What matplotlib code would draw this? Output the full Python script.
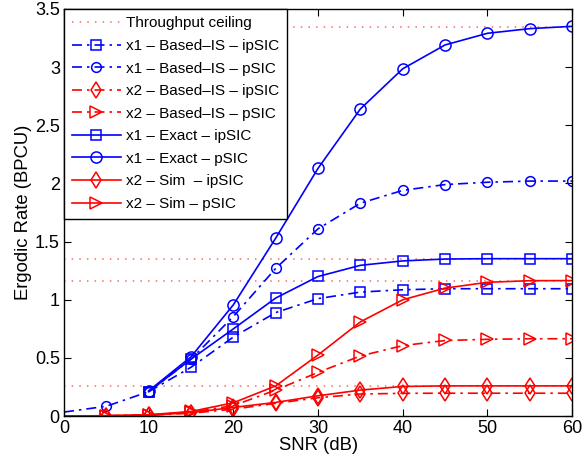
import matplotlib
matplotlib.use("Agg")
import matplotlib.pyplot as plt
from matplotlib.ticker import FuncFormatter

plt.rcParams['font.family'] = ['Liberation Sans', 'DejaVu Sans']

snr = [0, 5, 10, 15, 20, 25, 30, 35, 40, 45, 50, 55, 60]
snr_from10 = [10, 15, 20, 25, 30, 35, 40, 45, 50, 55, 60]

ceilings = [3.34, 1.35, 1.16, 0.26]

# Analytical (Based-IS) results
x1_is_ipsic = [0.21, 0.42, 0.68, 0.89, 1.01, 1.066, 1.086, 1.095, 1.095, 1.095, 1.095]
x1_is_psic = [0.035, 0.085, 0.21, 0.49, 0.856, 1.27, 1.61, 1.83, 1.94, 1.99, 2.01, 2.02, 2.02]
x2_is_ipsic = [0.0, 0.003, 0.008, 0.025, 0.06, 0.11, 0.158, 0.19, 0.196, 0.197, 0.197, 0.197, 0.197]
x2_is_psic = [0.0, 0.003, 0.01, 0.035, 0.09, 0.224, 0.376, 0.517, 0.606, 0.65, 0.66, 0.665, 0.665]

# Exact / simulation results
x1_ex_ipsic = [0.21, 0.49, 0.75, 1.015, 1.20, 1.296, 1.334, 1.35, 1.353, 1.353, 1.353]
x1_ex_psic = [0.218, 0.51, 0.957, 1.53, 2.13, 2.64, 2.985, 3.19, 3.29, 3.33, 3.35]
x2_sim_ipsic = [0.0, 0.003, 0.008, 0.03, 0.075, 0.118, 0.175, 0.224, 0.255, 0.26, 0.26, 0.26, 0.26]
x2_sim_psic = [0.0, 0.004, 0.012, 0.04, 0.115, 0.26, 0.526, 0.81, 1.0, 1.10, 1.15, 1.164, 1.165]

fig = plt.figure(figsize=(5.82, 4.66), dpi=100)
ax = fig.add_axes([0.110, 0.107, 0.873, 0.874])

dashdot = (0, (6, 3, 1.5, 3))
ceil_color = '#ff6666'
ms = 7
mew = 1.1
lw = 1.2

h_ceil = None
for c in ceilings:
    h_ceil, = ax.plot([0, 60], [c, c], linestyle=(0, (1, 4)), color=ceil_color, lw=1.1)

skip0 = list(range(1, len(snr)))

h1, = ax.plot(snr_from10, x1_is_ipsic, color='blue', ls=dashdot, lw=lw, marker='s',
              ms=ms, mfc='none', mew=mew)
h2, = ax.plot(snr, x1_is_psic, color='blue', ls=dashdot, lw=lw, marker='o',
              ms=ms, mfc='none', mew=mew, markevery=skip0)
h3, = ax.plot(snr, x2_is_ipsic, color='red', ls=dashdot, lw=lw, marker='d',
              ms=ms + 1, mfc='none', mew=mew, markevery=skip0)
h4, = ax.plot(snr, x2_is_psic, color='red', ls=dashdot, lw=lw, marker='>',
              ms=ms + 1, mfc='none', mew=mew, markevery=skip0)
h5, = ax.plot(snr_from10, x1_ex_ipsic, color='blue', ls='-', lw=lw, marker='s',
              ms=ms, mfc='none', mew=mew)
h6, = ax.plot(snr_from10, x1_ex_psic, color='blue', ls='-', lw=lw, marker='o',
              ms=ms + 1, mfc='none', mew=mew)
h7, = ax.plot(snr, x2_sim_ipsic, color='red', ls='-', lw=lw, marker='d',
              ms=ms + 1, mfc='none', mew=mew, markevery=skip0)
h8, = ax.plot(snr, x2_sim_psic, color='red', ls='-', lw=lw, marker='>',
              ms=ms + 1, mfc='none', mew=mew, markevery=skip0)

ax.set_xlim(0, 60)
ax.set_ylim(0, 3.5)
ax.set_xticks(range(0, 61, 10))
ax.set_yticks([0, 0.5, 1, 1.5, 2, 2.5, 3, 3.5])
ax.yaxis.set_major_formatter(FuncFormatter(lambda v, p: f"{v:g}"))
ax.tick_params(direction='in', top=True, right=True, labelsize=13, length=5, width=0.8, pad=3)
for s in ax.spines.values():
    s.set_linewidth(1.0)

ax.set_xlabel('SNR (dB)', fontsize=13.3, labelpad=0)
ax.set_ylabel('Ergodic Rate (BPCU)', fontsize=13.3, labelpad=2)

labels = ['Throughput ceiling',
          'x1 \u2013 Based\u2013IS \u2013 ipSIC',
          'x1 \u2013 Based\u2013IS \u2013 pSIC',
          'x2 \u2013 Based\u2013IS \u2013 ipSIC',
          'x2 \u2013 Based\u2013IS \u2013 pSIC',
          'x1 \u2013 Exact \u2013 ipSIC',
          'x1 \u2013 Exact \u2013 pSIC',
          'x2 \u2013 Sim  \u2013 ipSIC',
          'x2 \u2013 Sim \u2013 pSIC']
leg = ax.legend([h_ceil, h1, h2, h3, h4, h5, h6, h7, h8], labels,
                loc='upper left', borderaxespad=0, fontsize=11.0, handlelength=3.2,
                handletextpad=0.35, labelspacing=0.56, fancybox=False,
                framealpha=1, edgecolor='black', borderpad=0.5)
leg.get_frame().set_linewidth(1.0)

fig.savefig('out.png', dpi=100)
